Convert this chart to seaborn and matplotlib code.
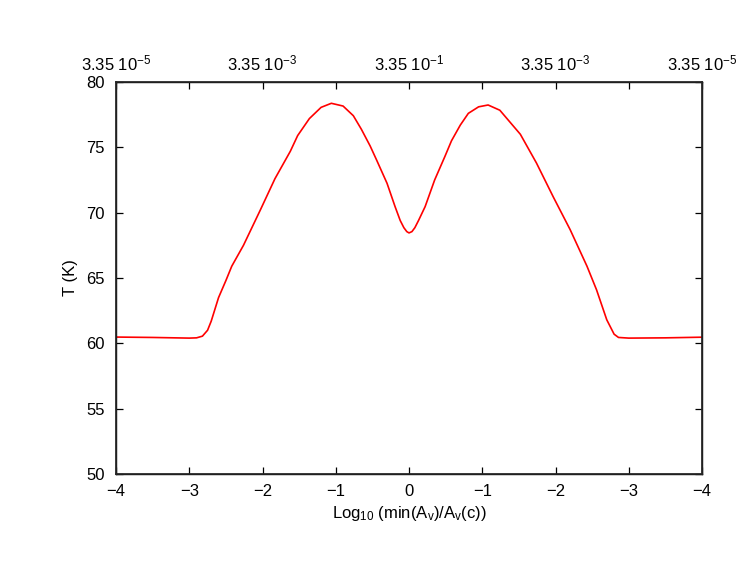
import numpy as np
import pandas as pd
import matplotlib
matplotlib.use("Agg")
import matplotlib.pyplot as plt
import seaborn as sns

# position along the cut (mirrored log scale), temperature in K
x_pos = [-4.0, -3.5, -3.0, -2.9, -2.82, -2.75, -2.7, -2.6, -2.5, -2.42,
         -2.26, -2.03, -1.83, -1.62, -1.52, -1.36, -1.2, -1.06, -0.9, -0.76,
         -0.65, -0.53, -0.44, -0.3, -0.19, -0.12, -0.07, -0.03, 0.0, 0.04,
         0.08, 0.13, 0.22, 0.35,
         0.49, 0.58, 0.7, 0.81, 0.95, 1.08, 1.24, 1.52, 1.74, 1.97,
         2.2, 2.43, 2.56, 2.7, 2.8, 2.86, 3.0, 3.5, 4.0]
temp = [60.48, 60.45, 60.40, 60.42, 60.55, 61.0, 61.7, 63.5, 64.8, 65.9,
        67.5, 70.2, 72.6, 74.7, 75.9, 77.2, 78.06, 78.37, 78.16, 77.42,
        76.38, 75.1, 74.0, 72.25, 70.46, 69.4, 68.85, 68.55, 68.45, 68.55,
        68.85, 69.4, 70.46, 72.5,
        74.3, 75.5, 76.7, 77.6, 78.1, 78.24, 77.84, 76.0, 73.8, 71.2,
        68.7, 65.9, 64.1, 61.8, 60.7, 60.45, 60.4, 60.42, 60.47]

bottom_ticks = [-4, -3, -2, -1, 0, 1, 2, 3, 4]
bottom_labels = ["\u22124", "\u22123", "\u22122", "\u22121", "0",
                 "\u22121", "\u22122", "\u22123", "\u22124"]
top_labels = [r"3.35 10$^{-5}$", "", r"3.35 10$^{-3}$", "", r"3.35 10$^{-1}$",
              "", r"3.35 10$^{-3}$", "", r"3.35 10$^{-5}$"]
y_ticks = [50, 55, 60, 65, 70, 75, 80]

sns.set_theme(style="ticks")
plt.rcParams["font.family"] = ["Liberation Sans", "DejaVu Sans"]
plt.rcParams["mathtext.fontset"] = "custom"
plt.rcParams["mathtext.rm"] = "Liberation Sans"
plt.rcParams["mathtext.it"] = "Liberation Sans"
plt.rcParams["mathtext.default"] = "rm"

df = pd.DataFrame({"x": x_pos, "T": temp})

fig = plt.figure(figsize=(7.52, 5.81), dpi=100)
ax = fig.add_axes([116 / 752, 107 / 581, 586 / 752, 392 / 581])

sns.lineplot(data=df, x="x", y="T", color="#ff0000", linewidth=1.2, ax=ax,
             sort=False)

ax.set_xlim(-4, 4)
ax.set_ylim(50, 80)
ax.set_xlabel(r"Log$_{10}$ (min(A$_{\rm v}$)/A$_{\rm v}$(c))", fontsize=12,
              color="black", labelpad=4)
ax.set_ylabel("T (K)", fontsize=12, color="black", labelpad=6)

for s in ax.spines.values():
    s.set_visible(True)
    s.set_color("black")
    s.set_linewidth(1.0)

top = ax.twiny()
top.set_xlim(-4, 4)
top.set_xticks(bottom_ticks)
top.set_xticklabels(top_labels)
top.tick_params(axis="x", which="major", direction="in", length=5,
                width=0.9, top=True, bottom=False, colors="black",
                labelsize=12, pad=6)

# bottom / left / right ticks, set after the twin so they stay on
ax.set_xticks(bottom_ticks)
ax.set_xticklabels(bottom_labels)
ax.set_yticks(y_ticks)
ax.set_yticklabels([str(v) for v in y_ticks])
ax.tick_params(axis="both", which="major", direction="in", length=5,
               width=0.9, colors="black", labelsize=12, bottom=True,
               left=True, right=True)
ax.tick_params(axis="x", pad=7)
ax.tick_params(axis="y", pad=8)

fig.savefig("out.png", dpi=100)
